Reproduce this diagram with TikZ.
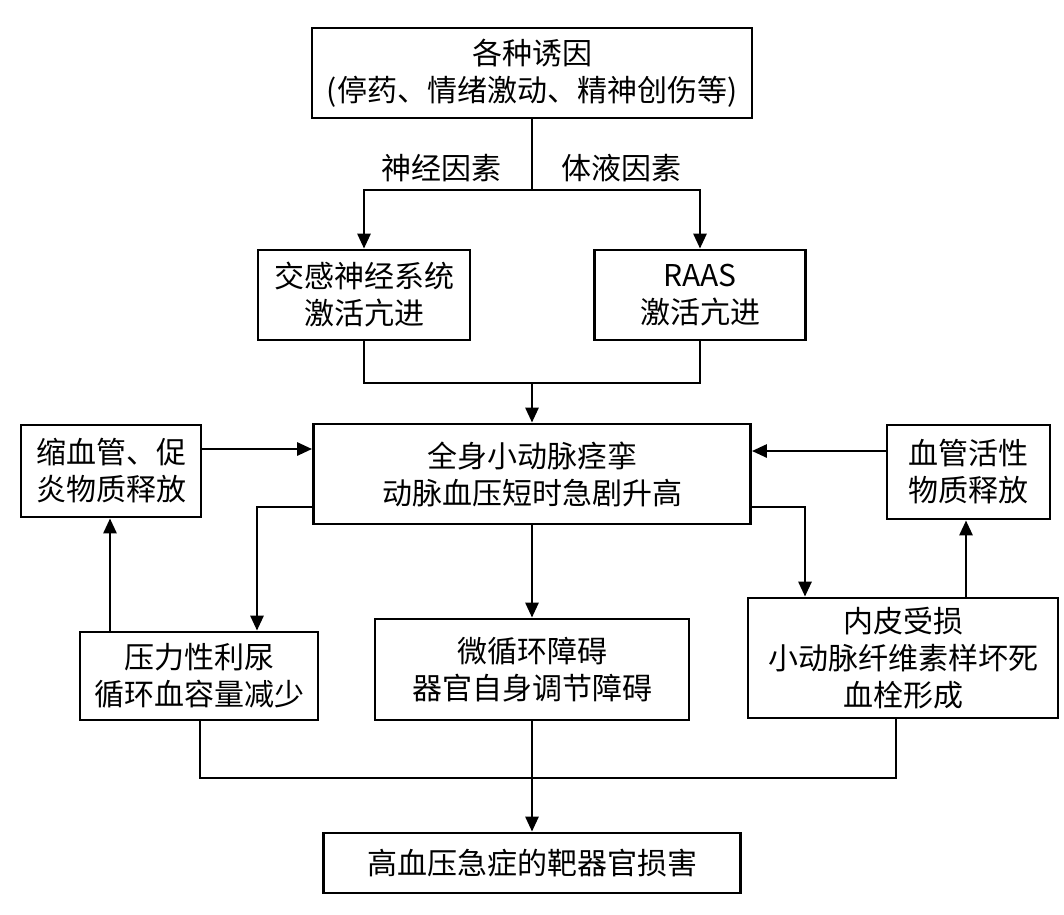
\documentclass[tikz,border=0pt]{standalone}
\usepackage{fontspec}
\setmainfont{Noto Sans CJK SC}
\usetikzlibrary{arrows.meta}
\begin{document}
\begin{tikzpicture}[x=1pt,y=-1pt,
  txt/.style={align=center,inner sep=0pt,font=\fontsize{30}{37}\selectfont},
  box/.style={txt,draw,line width=2.8pt},
  line/.style={line width=2.8pt},
  arr/.style={line width=2.8pt,-{Triangle[length=15pt,width=13pt]}}]
\useasboundingbox (0,0) rectangle (1064,914);
\fill[white] (0,0) rectangle (1064,914);
\node[box,minimum width=440pt,minimum height=90pt] (top) at (532,73) {各种诱因\\(停药、情绪激动、精神创伤等)};
\node[txt] (lab1) at (441,168) {神经因素};
\node[txt] (lab2) at (621,168) {体液因素};
\node[box,minimum width=212pt,minimum height=90pt] (sym) at (364,295) {交感神经系统\\激活亢进};
\node[box,minimum width=211pt,minimum height=90pt] (raas) at (700,295) {RAAS\\激活亢进};
\node[box,minimum width=437pt,minimum height=100pt] (main) at (532,474) {全身小动脉痉挛\\动脉血压短时急剧升高};
\node[box,minimum width=180pt,minimum height=92pt] (lsm) at (111,471) {缩血管、促\\炎物质释放};
\node[box,minimum width=163pt,minimum height=94pt] (rsm) at (968.5,472) {血管活性\\物质释放};
\node[box,minimum width=238pt,minimum height=88pt] (press) at (199,676) {压力性利尿\\循环血容量减少};
\node[box,minimum width=314pt,minimum height=101pt] (micro) at (532,669.5) {微循环障碍\\器官自身调节障碍};
\node[box,minimum width=310pt,minimum height=120pt] (endo) at (903,658) {内皮受损\\小动脉纤维素样坏死\\血栓形成};
\node[box,minimum width=417pt,minimum height=60pt] (target) at (532,863) {高血压急症的靶器官损害};
\coordinate (split) at (532,190);
\coordinate (join) at (532,383);
\coordinate (merge) at (532,778);
\draw[line] (top.south) -- (split);
\draw[arr] (split) -| (sym.north);
\draw[arr] (split) -| (raas.north);
\draw[line] (sym.south) |- (join) -| (raas.south);
\draw[arr] (join) -- (main.north);
\draw[arr] (lsm.east |- 0,449) -- (main.west |- 0,449);
\draw[arr] (rsm.west |- 0,451) -- (main.east |- 0,451);
\draw[arr] (main.west |- 0,507) -| (257,0 |- press.north);
\draw[arr] (110,0 |- press.north) -- (110,0 |- lsm.south);
\draw[arr] (main.south) -- (micro.north);
\draw[arr] (main.east |- 0,507) -| (805,0 |- endo.north);
\draw[arr] (966,0 |- endo.north) -- (966,0 |- rsm.south);
\draw[line] (200,0 |- press.south) |- (merge) -| (896,0 |- endo.south);
\draw[arr] (micro.south) -- (target.north);
\end{tikzpicture}
\end{document}
